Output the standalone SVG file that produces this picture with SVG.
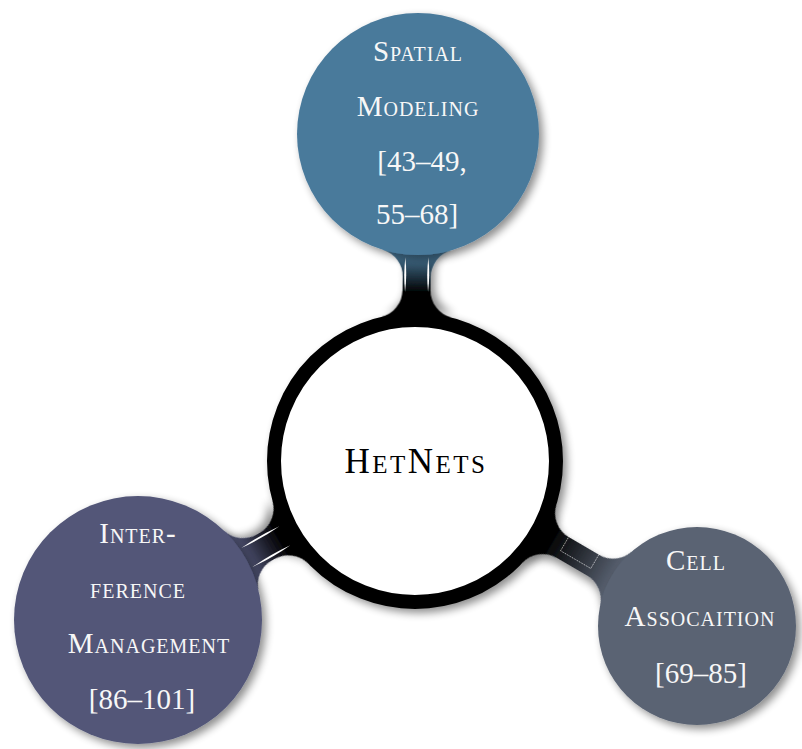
<svg xmlns="http://www.w3.org/2000/svg" width="802" height="749" viewBox="0 0 802 749">
  <defs>
    <filter id="shadow" x="-20%" y="-20%" width="140%" height="140%">
      <feGaussianBlur in="SourceAlpha" stdDeviation="4"/>
      <feOffset dx="4" dy="4" result="b"/>
      <feComponentTransfer><feFuncA type="linear" slope="0.45"/></feComponentTransfer>
      <feMerge><feMergeNode/><feMergeNode in="SourceGraphic"/></feMerge>
    </filter>
    <linearGradient id="gTop" gradientUnits="userSpaceOnUse" x1="168" y1="0" x2="208" y2="0">
      <stop offset="0" stop-color="#000"/>
      <stop offset="1" stop-color="#4a7a9b"/>
    </linearGradient>
    <linearGradient id="gLeft" gradientUnits="userSpaceOnUse" x1="155" y1="0" x2="198" y2="0">
      <stop offset="0" stop-color="#000"/>
      <stop offset="1" stop-color="#525678"/>
    </linearGradient>
    <linearGradient id="gRight" gradientUnits="userSpaceOnUse" x1="155" y1="0" x2="232" y2="0">
      <stop offset="0" stop-color="#000"/>
      <stop offset="1" stop-color="#5a6373"/>
    </linearGradient>
  </defs>
  <style>
    .lbl { font-family: "Liberation Serif", "DejaVu Serif", serif; font-size: 29px; fill: #f7f7f7; text-anchor: middle; font-variant: small-caps; letter-spacing: 1px; }
    .num { font-variant: normal; letter-spacing: 0; }
    .root { font-family: "Liberation Serif", "DejaVu Serif", serif; font-size: 35px; fill: #000; text-anchor: middle; font-variant: small-caps; letter-spacing: 2.5px; }
    .hl { fill: #fff; }
  </style>

  <g id="connectors">
    <g id="conn-top" transform="translate(415,461) rotate(-89.47)">
      <path filter="url(#shadow)" fill="url(#gTop)" d="M143.7,-35.3 A28,28 0 0 0 170.9,-14 L184,-14 A28,28 0 0 0 210.9,-34.1 L210.9,34.1 A28,28 0 0 0 184,14 L170.9,14 A28,28 0 0 0 143.7,35.3 Z"/>
      <path class="hl" d="M169,-11.5 Q186,-9.5 204,-11.5 Q186,-13.5 169,-11.5 Z"/>
      <path class="hl" d="M169,11.5 Q186,9.5 204,11.5 Q186,13.5 169,11.5 Z"/>
    </g>
    <g id="conn-left" transform="translate(415,461) rotate(150.14)">
      <path filter="url(#shadow)" fill="url(#gLeft)" d="M143.5,-36.2 A28,28 0 0 0 170.7,-15 L173.6,-15 A28,28 0 0 0 200.5,-35.1 L200.5,35.1 A28,28 0 0 0 173.6,15 L170.7,15 A28,28 0 0 0 143.5,36.2 Z"/>
      <path class="hl" d="M150,-11 Q171,-9 194,-11 Q171,-13 150,-11 Z"/>
      <path class="hl" d="M150,11 Q171,9 194,11 Q171,13 150,11 Z"/>
    </g>
    <g id="conn-right" transform="translate(415,461) rotate(30.33)">
      <path filter="url(#shadow)" fill="url(#gRight)" d="M144.1,-33.6 A28,28 0 0 0 171.4,-12 L206.2,-12 A28,28 0 0 0 232.8,-31.2 L232.8,31.2 A28,28 0 0 0 206.2,12 L171.4,12 A28,28 0 0 0 144.1,33.6 Z"/>
      <rect x="171" y="-14.4" width="35" height="18.4" fill="none" stroke="#fff" stroke-width="0.7" stroke-dasharray="1.2,0.8" opacity="0.85"/>
    </g>
  </g>

  <g id="node-hetnets">
    <circle cx="415" cy="461" r="141" fill="#fff" stroke="#000" stroke-width="14" filter="url(#shadow)"/>
    <text class="root" x="416" y="473">HetNets</text>
  </g>

  <g id="node-spatial">
    <circle cx="418" cy="134" r="121" fill="#4a7a9b" filter="url(#shadow)"/>
    <text class="lbl" x="418" y="61">Spatial</text>
    <text class="lbl" x="418" y="116">Modeling</text>
    <text class="lbl num" x="422" y="171">[43–49,</text>
    <text class="lbl num" x="417" y="224">55–68]</text>
  </g>

  <g id="node-interference">
    <circle cx="138" cy="620" r="124" fill="#525678" filter="url(#shadow)"/>
    <text class="lbl" x="138" y="543">Inter-</text>
    <text class="lbl" x="138" y="598">ference</text>
    <text class="lbl" x="149" y="653">Management</text>
    <text class="lbl num" x="142" y="709">[86–101]</text>
  </g>

  <g id="node-cell">
    <circle cx="697" cy="626" r="99" fill="#5a6373" filter="url(#shadow)"/>
    <text class="lbl" x="696" y="570">Cell</text>
    <text class="lbl" x="700" y="626">Assocaition</text>
    <text class="lbl num" x="701" y="683">[69–85]</text>
  </g>
</svg>
